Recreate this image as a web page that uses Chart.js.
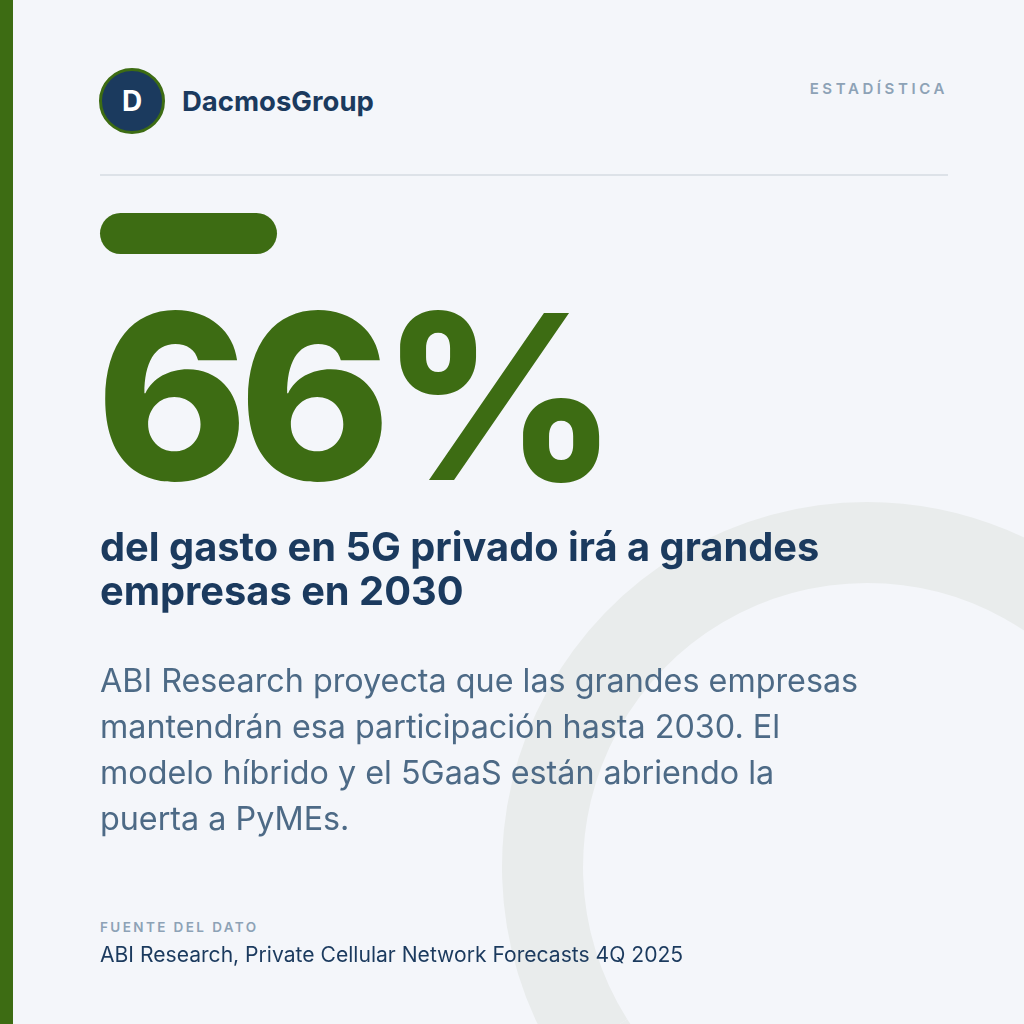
<!DOCTYPE html>
<html><head><meta charset="utf-8">
<script src="https://cdn.jsdelivr.net/npm/chart.js@4.4.1/dist/chart.umd.min.js"></script>
<style>
html,body{margin:0;padding:0;width:1024px;height:1024px;overflow:hidden;background:#F4F6FA;font-family:Inter,"Noto Sans",sans-serif;}
#wrap{position:relative;width:1024px;height:1024px;overflow:hidden;}
#bar{position:absolute;left:0;top:0;width:13px;height:1024px;background:#3D6C13;}
#ringBox{position:absolute;left:502px;top:502px;width:730px;height:730px;z-index:0;}
.t{position:absolute;z-index:1;white-space:nowrap;}
#logo{position:absolute;left:99px;top:68px;width:60px;height:60px;border-radius:50%;background:#1B3A5E;border:3px solid #3D6C13;color:#fff;font-weight:700;font-size:28px;text-align:center;line-height:61px;z-index:1;}
#brand{left:182px;top:84px;font-size:27.5px;font-weight:700;color:#1B3A5E;}
#tag{right:76px;top:79px;font-size:15px;font-weight:600;letter-spacing:3.6px;color:#8DA2B6;}
#rule{position:absolute;left:100px;top:174px;width:848px;height:1.5px;background:#DDE2E8;}
#pill{position:absolute;left:100px;top:213px;width:177px;height:41px;border-radius:21px;background:#3D6C13;}
#big{left:96px;top:281px;font-size:230px;font-weight:800;color:#3D6C13;line-height:1;letter-spacing:-9.5px;}
#head{left:100px;top:525px;font-size:39.8px;font-weight:700;color:#1B3A5E;line-height:44px;white-space:nowrap;}
#body{left:100px;top:658px;font-size:32.3px;font-weight:400;color:#4D6A86;line-height:46px;white-space:nowrap;}
#srcLbl{left:100px;top:919px;font-size:13.5px;font-weight:600;letter-spacing:2.4px;color:#8DA2B6;}
#src{left:100px;top:942px;font-size:21.1px;font-weight:400;color:#1B3A5E;}
</style></head>
<body><div id="wrap">
<div id="ringBox"><canvas id="ring" width="730" height="730"></canvas></div>
<div id="bar"></div>
<div id="logo">D</div>
<div class="t" id="brand">DacmosGroup</div>
<div class="t" id="tag">ESTADÍSTICA</div>
<div id="rule"></div>
<div id="pill"></div>
<div class="t" id="big"></div>
<div class="t" id="head">del gasto en 5G privado irá a grandes<br>empresas en 2030</div>
<div class="t" id="body">ABI Research proyecta que las grandes empresas<br>mantendrán esa participación hasta 2030. El<br>modelo híbrido y el 5GaaS están abriendo la<br>puerta a PyMEs.</div>
<div class="t" id="srcLbl">FUENTE DEL DATO</div>
<div class="t" id="src">ABI Research, Private Cellular Network Forecasts 4Q 2025</div>
</div>
<script>
// Data
const categories = ['Grandes empresas', 'Resto'];
const shareValues = [66, 34];
const headlineValue = shareValues[0];

document.getElementById('big').textContent = headlineValue + '%';

new Chart(document.getElementById('ring'), {
  type: 'doughnut',
  data: {
    labels: categories,
    datasets: [{
      data: shareValues,
      backgroundColor: ['#E9ECEC', '#E9ECEC'],
      borderWidth: 0,
      hoverOffset: 0
    }]
  },
  options: {
    responsive: false,
    animation: false,
    cutout: '77.8%',
    layout: { padding: 0 },
    plugins: { legend: { display: false }, tooltip: { enabled: false } },
    events: []
  }
});
</script>
</body></html>
